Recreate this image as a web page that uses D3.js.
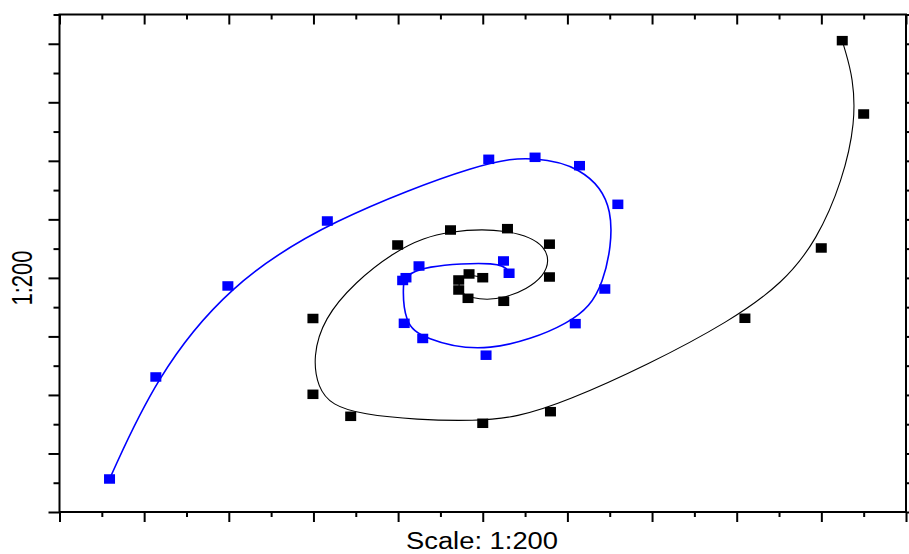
<!DOCTYPE html>
<html>
<head>
<meta charset="utf-8">
<script src="https://cdn.jsdelivr.net/npm/d3@7"></script>
<style>
  html, body { margin: 0; padding: 0; background: #fff; }
  svg { display: block; }
</style>
</head>
<body>
<svg id="chart" width="909" height="554"></svg>
<script>
// ---- data ----
const blackX = [4.247, 4.500, 3.999, 3.097, 0.800, 0.000, -1.560, -2.006, -2.006, -1.005, -0.381, 0.292, 0.788, 0.788, 0.248, -0.174, -0.284, -0.284, -0.162, 0.000];
const blackY = [4.053, 2.800, 0.511, -0.690, -2.286, -2.484, -2.365, -1.989, -0.694, 0.562, 0.818, 0.841, 0.576, 0.015, -0.400, -0.349, -0.207, -0.036, 0.067, 0.003];
const blueX = [-4.409, -3.862, -3.011, -1.836, 0.071, 0.618, 1.143, 1.596, 1.442, 1.093, 0.039, -0.709, -0.928, -0.946, -0.907, -0.753, 0.245, 0.311];
const blueY = [-3.436, -1.693, -0.138, 0.972, 2.026, 2.060, 1.917, 1.257, -0.190, -0.782, -1.321, -1.035, -0.776, -0.044, 0.003, 0.203, 0.289, 0.079];

const xDomain = [-5, 5];
const yDomain = [-4, 4.5];
const xMajorTicks = [-5, -4, -3, -2, -1, 0, 1, 2, 3, 4, 5];
const xMinorTicks = [-4.5, -3.5, -2.5, -1.5, -0.5, 0.5, 1.5, 2.5, 3.5, 4.5];
const yMajorTicks = [-4, -3, -2, -1, 0, 1, 2, 3, 4];
const yMinorTicks = [-3.5, -2.5, -1.5, -0.5, 0.5, 1.5, 2.5, 3.5, 4.5];
const xTitle = "Scale: 1:200";
const yTitle = "1:200";

// ---- layout ----
const svg = d3.select("#chart");
const L = 59.5, R = 906, T = 14.5, B = 512;
const x = d3.scaleLinear().domain(xDomain).range([L, R]);
const y = d3.scaleLinear().domain(yDomain).range([B, T]);

const noLabel = () => "";
function styleAxis(g) {
  g.select(".domain").remove();
  g.selectAll(".tick line").attr("stroke", "#000").attr("stroke-width", 2);
  g.selectAll("text").remove();
}

// bottom axis (outward)
svg.append("g").attr("transform", `translate(0,${B})`)
  .call(d3.axisBottom(x).tickValues(xMajorTicks).tickSize(10).tickFormat(noLabel)).call(styleAxis);
svg.append("g").attr("transform", `translate(0,${B})`)
  .call(d3.axisBottom(x).tickValues(xMinorTicks).tickSize(5).tickFormat(noLabel)).call(styleAxis);
// top axis (inward)
svg.append("g").attr("transform", `translate(0,${T})`)
  .call(d3.axisTop(x).tickValues(xMajorTicks).tickSize(-10).tickFormat(noLabel)).call(styleAxis);
svg.append("g").attr("transform", `translate(0,${T})`)
  .call(d3.axisTop(x).tickValues(xMinorTicks).tickSize(-5).tickFormat(noLabel)).call(styleAxis);
// left axis (outward)
svg.append("g").attr("transform", `translate(${L},0)`)
  .call(d3.axisLeft(y).tickValues(yMajorTicks).tickSize(11).tickFormat(noLabel)).call(styleAxis);
svg.append("g").attr("transform", `translate(${L},0)`)
  .call(d3.axisLeft(y).tickValues(yMinorTicks).tickSize(6).tickFormat(noLabel)).call(styleAxis);
// right axis (outward)
svg.append("g").attr("transform", `translate(${R},0)`)
  .call(d3.axisRight(y).tickValues(yMajorTicks).tickSize(11).tickFormat(noLabel)).call(styleAxis);
svg.append("g").attr("transform", `translate(${R},0)`)
  .call(d3.axisRight(y).tickValues(yMinorTicks).tickSize(6).tickFormat(noLabel)).call(styleAxis);

// frame
svg.append("rect")
  .attr("x", L).attr("y", T).attr("width", R - L).attr("height", B - T)
  .attr("fill", "none").attr("stroke", "#000").attr("stroke-width", 2);

// ---- series ----
const series = [
  { xs: blackX, ys: blackY, color: "#000000", width: 1.1 },
  { xs: blueX, ys: blueY, color: "#0000ff", width: 1.6 }
];
const line = d3.line().x(d => x(d[0])).y(d => y(d[1])).curve(d3.curveBasis);
const mw = 11, mh = 9.5;

series.forEach(s => {
  const pts = s.xs.map((v, i) => [v, s.ys[i]]);
  svg.append("path").datum(pts)
    .attr("d", line)
    .attr("fill", "none")
    .attr("stroke", s.color)
    .attr("stroke-width", s.width);
});
series.forEach(s => {
  const pts = s.xs.map((v, i) => [v, s.ys[i]]);
  svg.append("g").selectAll("rect").data(pts).join("rect")
    .attr("x", d => x(d[0]) - mw / 2)
    .attr("y", d => y(d[1]) - mh / 2)
    .attr("width", mw).attr("height", mh)
    .attr("fill", s.color);
});

// ---- titles ----
svg.append("text")
  .attr("x", 482).attr("y", 548.5)
  .attr("text-anchor", "middle")
  .attr("font-family", "Liberation Sans, Arial, sans-serif")
  .attr("font-size", 23)
  .attr("textLength", 152)
  .attr("lengthAdjust", "spacingAndGlyphs")
  .attr("fill", "#000")
  .text(xTitle);

svg.append("text")
  .attr("transform", "translate(31.5,278) scale(1.3,1) rotate(-90)")
  .attr("text-anchor", "middle")
  .attr("font-family", "Liberation Sans, Arial, sans-serif")
  .attr("font-size", 22)
  .attr("fill", "#000")
  .text(yTitle);
</script>
</body>
</html>
